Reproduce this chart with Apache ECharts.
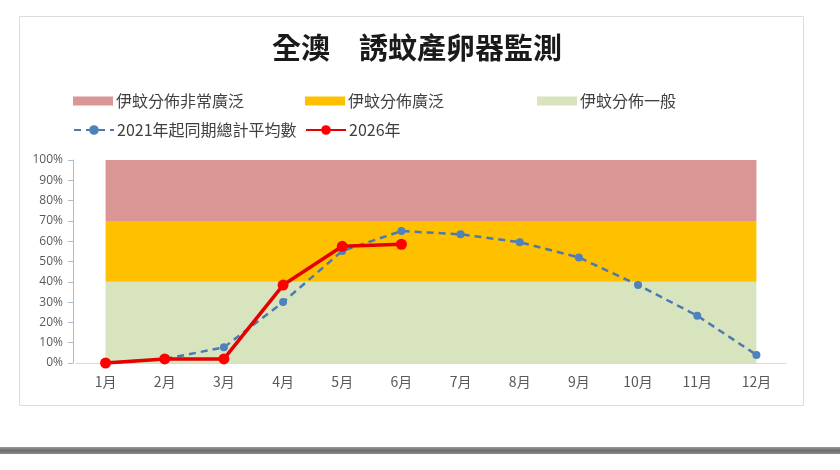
<!DOCTYPE html>
<html>
<head>
<meta charset="utf-8">
<style>
  html, body { margin: 0; padding: 0; background: #fff; }
  #chart { width: 840px; height: 470px; }
</style>
<script src="https://cdn.jsdelivr.net/npm/echarts@6/dist/echarts.min.js"></script>
</head>
<body>
<div id="chart"></div>
<script>
const months = ['1月', '2月', '3月', '4月', '5月', '6月', '7月', '8月', '9月', '10月', '11月', '12月']
// band thicknesses (stacked): general / widespread / very widespread
const bandLow = [0.4, 0.4, 0.4, 0.4, 0.4, 0.4, 0.4, 0.4, 0.4, 0.4, 0.4, 0.4]
const bandMid = [0.3, 0.3, 0.3, 0.3, 0.3, 0.3, 0.3, 0.3, 0.3, 0.3, 0.3, 0.3]
const bandHigh = [0.3, 0.3, 0.3, 0.3, 0.3, 0.3, 0.3, 0.3, 0.3, 0.3, 0.3, 0.3]
const avgSince2021 = [0, 0.02, 0.077, 0.30, 0.552, 0.65, 0.634, 0.595, 0.52, 0.384, 0.233, 0.04]
const year2026 = [0, 0.02, 0.02, 0.384, 0.575, 0.585]

const chart = echarts.init(document.getElementById('chart'))
const fontCJK = '"Noto Sans CJK TC", "Noto Sans", sans-serif'

function legendAt(name, left, top, icon) {
  const l = {
    data: [name],
    left: left,
    top: top,
    itemWidth: 40,
    itemHeight: icon ? 9 : 12,
    itemGap: 0,
    textStyle: { color: '#404040', fontSize: 16, fontFamily: fontCJK, padding: [0, 0, 0, -2] },
    selectedMode: false
  }
  if (icon) l.icon = icon
  return l
}

function band(name, data, color) {
  return {
    name: name,
    type: 'line',
    stack: 'bands',
    data: data,
    symbol: 'none',
    lineStyle: { width: 0 },
    itemStyle: { color: color },
    areaStyle: { color: color, opacity: 1 },
    silent: true,
    z: 1
  }
}

chart.setOption({
  animation: false,
  title: {
    text: '全澳　誘蚊產卵器監測',
    left: 267,
    top: 28,
    textStyle: { color: '#1a1a1a', fontSize: 29, fontWeight: 'bold', fontFamily: fontCJK }
  },
  graphic: [
    {
      type: 'rect',
      shape: { x: 19.5, y: 16.5, width: 784, height: 389 },
      style: { fill: 'none', stroke: '#dcdcdc', lineWidth: 1 },
      silent: true
    },
    {
      type: 'rect',
      shape: { x: 0, y: 447, width: 840, height: 7 },
      style: {
        fill: new echarts.graphic.LinearGradient(0, 0, 0, 1, [
          { offset: 0, color: '#9a9a9a' },
          { offset: 0.5, color: '#6e6e6e' },
          { offset: 1, color: '#8a8a8a' }
        ])
      },
      silent: true
    }
  ],
  legend: [
    legendAt('伊蚊分佈非常廣泛', 68, 88, 'rect'),
    legendAt('伊蚊分佈廣泛', 300, 88, 'rect'),
    legendAt('伊蚊分佈一般', 532, 88, 'rect'),
    legendAt('2021年起同期總計平均數', 68, 117),
    legendAt('2026年', 300, 117)
  ],
  grid: {
    top: 160,
    bottom: 107,
    left: 76,
    right: 54
  },
  xAxis: {
    type: 'category',
    data: months,
    boundaryGap: true,
    axisTick: { show: false },
    axisLine: { lineStyle: { color: '#d9d9d9', width: 1 } },
    axisLabel: { color: '#595959', fontSize: 14, fontFamily: fontCJK, margin: 12 }
  },
  yAxis: {
    type: 'value',
    min: 0,
    max: 1,
    interval: 0.1,
    offset: 3,
    splitLine: { show: false },
    axisLine: { show: true, lineStyle: { color: '#a9bccf', width: 1 } },
    axisTick: { show: true, length: 5, lineStyle: { color: '#a9bccf' } },
    axisLabel: {
      color: '#595959',
      fontSize: 12,
      fontFamily: '"Open Sans", sans-serif',
      margin: 10,
      formatter: v => Math.round(v * 100) + '%'
    }
  },
  series: [
    band('伊蚊分佈一般', bandLow, '#d7e4bd'),
    band('伊蚊分佈廣泛', bandMid, '#ffc000'),
    band('伊蚊分佈非常廣泛', bandHigh, '#d99694'),
    {
      name: '2021年起同期總計平均數',
      type: 'line',
      data: avgSince2021,
      symbol: 'circle',
      symbolSize: 8,
      itemStyle: { color: '#4f81bd' },
      lineStyle: { color: '#4a7ab0', width: 2.5, type: [7, 5] },
      z: 3
    },
    {
      name: '2026年',
      type: 'line',
      data: year2026,
      symbol: 'circle',
      symbolSize: 11,
      itemStyle: { color: '#ff0000' },
      lineStyle: { color: '#e60000', width: 3.5 },
      z: 4
    }
  ]
})
</script>
</body>
</html>
